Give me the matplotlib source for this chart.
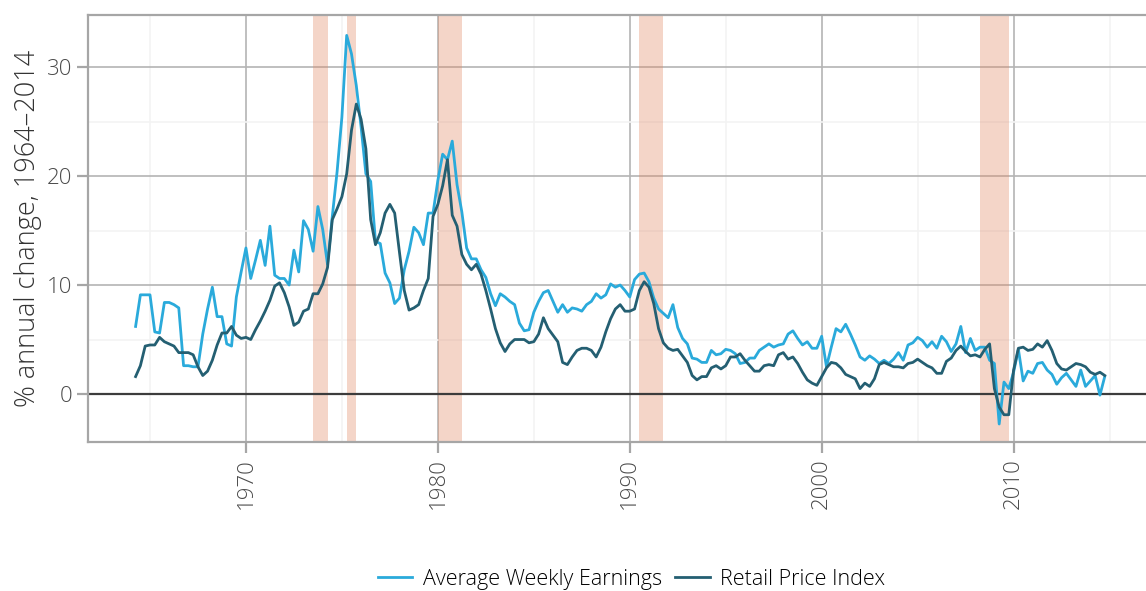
import numpy as np
import matplotlib.pyplot as plt
from matplotlib.ticker import MultipleLocator

plt.rcParams['font.family'] = ['Open Sans', 'DejaVu Sans']

# quarterly observations, first one is 1964 Q2
start_year = 1964.25

awe = [6.2, 9.1, 9.1,
       9.1, 5.7, 5.6, 8.4,
       8.4, 8.2, 7.9, 2.6,
       2.6, 2.5, 2.5, 5.5,
       7.8, 9.8, 7.1, 7.1,
       4.6, 4.4, 8.9, 11.2,
       13.4, 10.6, 12.3, 14.1,
       11.8, 15.4, 10.9, 10.6,
       10.6, 10.0, 13.2, 11.2,
       15.9, 15.1, 13.1, 17.2,
       15.1, 11.9, 16.3, 20.4,
       25.4, 32.9, 31.2, 28.3,
       24.5, 20.2, 19.5, 14.0,
       13.8, 11.1, 10.2, 8.3,
       8.8, 11.4, 13.1, 15.3,
       14.8, 13.7, 16.6, 16.6,
       19.6, 22.0, 21.5, 23.2,
       19.2, 16.7, 13.4, 12.4,
       12.4, 11.4, 10.7, 9.2,
       8.1, 9.2, 8.9, 8.5,
       8.2, 6.5, 5.8, 5.9,
       7.5, 8.5, 9.3, 9.5,
       8.5, 7.5, 8.2, 7.5,
       7.9, 7.8, 7.6, 8.2,
       8.5, 9.2, 8.8, 9.1,
       10.1, 9.8, 10.0, 9.5,
       8.9, 10.5, 11.0, 11.1,
       10.3, 8.8, 7.8, 7.4,
       7.0, 8.2, 6.1, 5.1,
       4.6, 3.3, 3.2, 2.9,
       2.9, 4.0, 3.6, 3.7,
       4.1, 4.0, 3.7, 2.8,
       2.9, 3.3, 3.3, 4.0,
       4.3, 4.6, 4.3, 4.5,
       4.6, 5.5, 5.8, 5.1,
       4.5, 4.8, 4.2, 4.2,
       5.3, 2.5, 4.3, 6.0,
       5.7, 6.4, 5.5, 4.5,
       3.4, 3.1, 3.5, 3.2,
       2.8, 3.1, 2.8, 3.2,
       3.8, 3.1, 4.5, 4.7,
       5.2, 4.9, 4.3, 4.8,
       4.2, 5.3, 4.8, 3.9,
       4.6, 6.2, 3.8, 5.1,
       4.0, 4.3, 4.3, 3.1,
       2.8, -2.75, 1.1, 0.5,
       2.0, 4.1, 1.2, 2.1,
       1.9, 2.8, 2.9, 2.2,
       1.8, 0.9, 1.5, 1.9,
       1.3, 0.7, 2.2, 0.7,
       1.2, 1.7, -0.1, 1.6]

rpi = [1.6, 2.6, 4.4,
       4.5, 4.5, 5.2, 4.8,
       4.6, 4.4, 3.8, 3.8,
       3.8, 3.6, 2.5, 1.7,
       2.1, 3.1, 4.5, 5.6,
       5.6, 6.2, 5.4, 5.1,
       5.2, 5.0, 5.9, 6.7,
       7.6, 8.6, 9.9, 10.2,
       9.3, 8.0, 6.3, 6.6,
       7.6, 7.8, 9.2, 9.2,
       10.1, 11.6, 16.0, 17.0,
       18.1, 20.2, 24.2, 26.6,
       25.2, 22.5, 16.0, 13.7,
       14.8, 16.6, 17.4, 16.6,
       13.0, 9.5, 7.7, 7.9,
       8.2, 9.5, 10.6, 16.3,
       17.4, 19.1, 21.5, 16.4,
       15.4, 12.8, 11.9, 11.4,
       11.9, 11.0, 9.5, 7.8,
       6.0, 4.7, 3.9, 4.6,
       5.0, 5.0, 5.0, 4.7,
       4.8, 5.5, 7.0, 6.0,
       5.4, 4.8, 2.9, 2.7,
       3.4, 4.0, 4.2, 4.2,
       4.0, 3.4, 4.3, 5.7,
       6.9, 7.8, 8.2, 7.6,
       7.6, 7.8, 9.5, 10.3,
       9.8, 8.3, 6.0, 4.7,
       4.2, 4.0, 4.1, 3.5,
       2.9, 1.7, 1.3, 1.6,
       1.6, 2.4, 2.6, 2.3,
       2.6, 3.4, 3.4, 3.7,
       3.1, 2.6, 2.1, 2.1,
       2.6, 2.7, 2.6, 3.6,
       3.8, 3.2, 3.4, 2.8,
       2.0, 1.3, 1.0, 0.8,
       1.6, 2.4, 2.9, 2.8,
       2.4, 1.8, 1.6, 1.4,
       0.5, 1.0, 0.7, 1.4,
       2.7, 2.9, 2.7, 2.5,
       2.5, 2.4, 2.8, 2.9,
       3.2, 2.9, 2.6, 2.4,
       1.9, 1.9, 3.0, 3.3,
       4.0, 4.4, 3.9, 3.5,
       3.6, 3.4, 4.1, 4.6,
       0.5, -1.2, -1.9, -1.9,
       2.2, 4.2, 4.3, 4.0,
       4.1, 4.6, 4.3, 4.9,
       4.0, 2.8, 2.3, 2.2,
       2.5, 2.8, 2.7, 2.5,
       2.0, 1.8, 2.0, 1.7]

recessions = [(1973.5, 1974.25), (1975.25, 1975.75), (1980.0, 1981.25),
              (1990.5, 1991.75), (2008.25, 2009.75)]

t = start_year + 0.25 * np.arange(len(awe))

fig = plt.figure(figsize=(11.46, 5.91), dpi=100)
ax = fig.add_axes([88 / 1146, 1 - 442 / 591, 1 - 88 / 1146, (442 - 15) / 591])

# shaded recessions sit under the lines but over the grid
for a, b in recessions:
    ax.axvspan(a, b, color='#e08764', alpha=0.35, lw=0, zorder=1.5)

ax.plot(t, awe, color='#2aaadb', lw=2.0, label='Average Weekly Earnings', zorder=3)
ax.plot(t, rpi, color='#245f72', lw=2.0, label='Retail Price Index', zorder=4)

ax.axhline(0, color='#3c3c3c', lw=1.6, zorder=2)

ax.set_xlim(1961.77, 2016.9)
ax.set_ylim(-4.4, 34.77)
ax.xaxis.set_major_locator(MultipleLocator(10))
ax.xaxis.set_minor_locator(MultipleLocator(5))
ax.yaxis.set_major_locator(MultipleLocator(10))
ax.yaxis.set_minor_locator(MultipleLocator(5))
ax.grid(which='major', color='#b4b4b4', lw=1.2, zorder=1)
ax.grid(which='minor', color='#f3f3f3', lw=1.2, zorder=0)
ax.set_axisbelow(True)

for s in ['top', 'left', 'bottom']:
    ax.spines[s].set_color('#a6a6a6')
    ax.spines[s].set_linewidth(1.6)
ax.spines['right'].set_visible(False)

ax.tick_params(which='major', length=8, width=1.6, color='#a6a6a6',
               labelsize=16, labelcolor='#4a4a4a')
ax.tick_params(which='minor', length=0)
plt.setp(ax.get_xticklabels(), rotation=90, fontweight='light')
plt.setp(ax.get_yticklabels(), fontweight='light')

ax.set_ylabel('% annual change, 1964–2014', fontsize=19.5, color='#333333',
              fontweight='light', labelpad=3)

ax.legend(loc='center', bbox_to_anchor=(0.514, -0.322), ncol=2, frameon=False,
          handlelength=1.6, handletextpad=0.5, columnspacing=0.6,
          prop={'weight': 'light', 'size': 15.5})

fig.savefig('out.png', dpi=100)
